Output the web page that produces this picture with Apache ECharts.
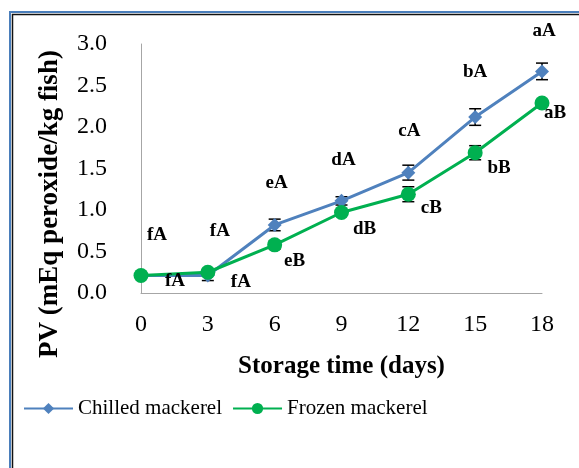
<!DOCTYPE html>
<html>
<head>
<meta charset="utf-8">
<script src="https://cdn.jsdelivr.net/npm/echarts@6/dist/echarts.min.js"></script>
<style>
  html, body { margin: 0; padding: 0; background: #fff; }
  #chart { width: 579px; height: 468px; }
</style>
</head>
<body>
<div id="chart"></div>
<script>
const days = [0, 3, 6, 9, 12, 15, 18];
const yTicks = [0, 0.5, 1, 1.5, 2, 2.5, 3];

const chilled = [0.21, 0.21, 0.82, 1.11, 1.45, 2.12, 2.67];
const chilledErr = [0.02, 0.06, 0.07, 0.05, 0.09, 0.10, 0.10];
const chilledLetters = ['fA', 'fA', 'eA', 'dA', 'cA', 'bA', 'aA'];

const frozen = [0.21, 0.25, 0.58, 0.97, 1.19, 1.69, 2.29];
const frozenErr = [0.02, 0.03, 0.05, 0.03, 0.09, 0.085, 0.03];
const frozenLetters = ['fA', 'fA', 'eB', 'dB', 'cB', 'bB', 'aB'];

// where the significance letters sit relative to each point (px)
const chilledLabelShift = [[16, -40], [12, -44], [2, -42], [2, -41], [1, -42], [0, -45], [2, -40]];
const frozenLabelShift = [[34, 6], [33, 10], [20, 16], [23, 17], [23, 14], [24, 15], [13, 10]];

const SERIF = "'Liberation Serif', 'Times New Roman', serif";
const BLUE = '#4f81bd';
const GREEN = '#00b050';

function pointsWithLabels(values, letters, shifts) {
    return values.map((v, i) => ({
        value: [days[i], v],
        label: {
            show: true,
            position: 'inside',
            formatter: letters[i],
            offset: shifts[i],
            color: '#000',
            fontFamily: SERIF,
            fontWeight: 'bold',
            fontSize: 19
        }
    }));
}

function errorBars(values, errs) {
    return values.map((v, i) => [days[i], v - errs[i], v + errs[i]]);
}

function renderErrorBar(params, api) {
    const lo = api.coord([api.value(0), api.value(1)]);
    const hi = api.coord([api.value(0), api.value(2)]);
    const half = 6;
    const style = { stroke: '#000', lineWidth: 1.5 };
    return {
        type: 'group',
        children: [
            { type: 'line', shape: { x1: lo[0], y1: lo[1], x2: hi[0], y2: hi[1] }, style: style },
            { type: 'line', shape: { x1: lo[0] - half, y1: lo[1], x2: lo[0] + half, y2: lo[1] }, style: style },
            { type: 'line', shape: { x1: hi[0] - half, y1: hi[1], x2: hi[0] + half, y2: hi[1] }, style: style }
        ]
    };
}

const chart = echarts.init(document.getElementById('chart'));

const option = {
    backgroundColor: '#fff',
    animation: false,
    grid: { left: 141, top: 44, width: 401, height: 249, containLabel: false },
    xAxis: {
        type: 'value',
        min: 0,
        max: 18,
        interval: 3,
        name: 'Storage time (days)',
        nameLocation: 'middle',
        nameGap: 61,
        nameTextStyle: { fontFamily: SERIF, fontWeight: 'bold', fontSize: 25, color: '#000' },
        axisLine: { lineStyle: { color: '#a6a6a6', width: 1 } },
        axisTick: { show: false },
        splitLine: { show: false },
        axisLabel: { fontFamily: SERIF, fontSize: 24, color: '#000', margin: 20 }
    },
    yAxis: {
        type: 'value',
        min: yTicks[0],
        max: yTicks[yTicks.length - 1],
        interval: 0.5,
        axisLine: { show: true, lineStyle: { color: '#a6a6a6', width: 1 } },
        axisTick: { show: false },
        splitLine: { show: false },
        axisLabel: {
            fontFamily: SERIF, fontSize: 24, color: '#000', margin: 34,
            formatter: v => v.toFixed(1)
        }
    },
    legend: {
        left: 23,
        top: 398,
        padding: 0,
        itemWidth: 49,
        itemHeight: 14,
        itemGap: 10,
        data: ['Chilled mackerel', 'Frozen mackerel'],
        textStyle: { fontFamily: SERIF, fontSize: 21, color: '#000' }
    },
    graphic: [
        {
            type: 'text',
            x: 50,
            y: 204,
            rotation: Math.PI / 2,
            style: {
                text: 'PV (mEq peroxide/kg fish)',
                fontFamily: SERIF,
                fontWeight: 'bold',
                fontSize: 27,
                fill: '#000',
                align: 'center',
                verticalAlign: 'middle'
            }
        },
        {
            type: 'polyline',
            shape: { points: [[10, 480], [10, 12], [590, 12]] },
            style: { stroke: '#4a7ebb', lineWidth: 2, fill: null }
        },
        {
            type: 'polyline',
            shape: { points: [[12.5, 480], [12.5, 14.5], [590, 14.5]] },
            style: { stroke: '#111', lineWidth: 1.5, fill: null }
        }
    ],
    series: [
        {
            type: 'custom',
            name: 'chilled-err',
            renderItem: renderErrorBar,
            data: errorBars(chilled, chilledErr),
            z: 1,
            silent: true
        },
        {
            type: 'custom',
            name: 'frozen-err',
            renderItem: renderErrorBar,
            data: errorBars(frozen, frozenErr),
            z: 1,
            silent: true
        },
        {
            name: 'Chilled mackerel',
            type: 'line',
            data: pointsWithLabels(chilled, chilledLetters, chilledLabelShift),
            symbol: 'diamond',
            symbolSize: 14,
            itemStyle: { color: BLUE },
            lineStyle: { color: BLUE, width: 3 },
            z: 3
        },
        {
            name: 'Frozen mackerel',
            type: 'line',
            data: pointsWithLabels(frozen, frozenLetters, frozenLabelShift),
            symbol: 'circle',
            symbolSize: 15,
            itemStyle: { color: GREEN },
            lineStyle: { color: GREEN, width: 3 },
            z: 4
        }
    ]
};

chart.setOption(option);
</script>
</body>
</html>
